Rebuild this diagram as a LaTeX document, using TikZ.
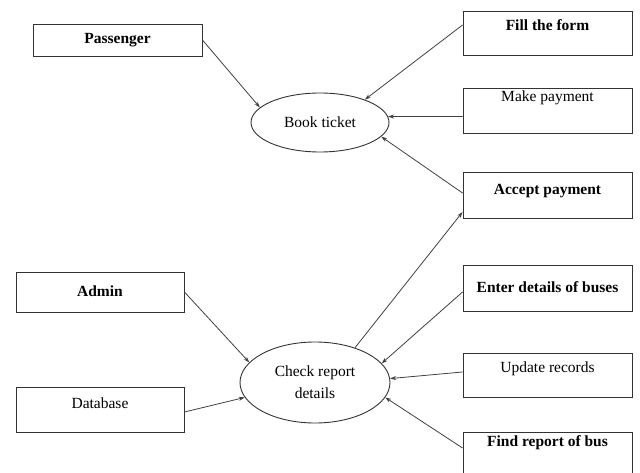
\documentclass[tikz,border=0pt]{standalone}
\usepackage{fontspec}
\setmainfont{Liberation Serif}
\usetikzlibrary{arrows.meta, shapes.geometric}

\begin{document}
\begin{tikzpicture}[
  x=1pt, y=-1pt,
  font=\fontsize{15.5}{22}\selectfont,
  box/.style={draw=black!80, line width=0.9pt, minimum width=169pt, minimum height=45pt,
    inner ysep=0pt, text height=11pt, text depth=3pt},
  usecase/.style={draw=black!80, line width=0.9pt, ellipse, align=center, inner sep=0pt},
  arrow/.style={-{Stealth[length=6pt, width=4pt]}, draw=black!75, line width=0.8pt}
]
\useasboundingbox (0,0) rectangle (640,473);

% actors
\node[box, minimum height=32pt, font=\fontsize{15.5}{22}\selectfont\bfseries] (pass) at (117.5,40) {Passenger};
\node[box, minimum width=168pt, minimum height=40pt, font=\fontsize{15.5}{22}\selectfont\bfseries] (admin) at (100,292) {Admin};
\node[box, minimum width=168pt, text depth=13pt] (db) at (100,409.5) {Database};

% use cases
\node[usecase, minimum width=138pt, minimum height=59pt] (book) at (320,122.5) {Book ticket};
\node[usecase, minimum width=150pt, minimum height=81pt] (check) at (315,382.5) {Check report\\details};

% right column
\node[box, minimum height=44pt, text depth=15pt, font=\fontsize{15.5}{22}\selectfont\bfseries] (fill) at (547.5,33) {Fill the form};
\node[box, text depth=29pt] (pay) at (547.5,110.5) {Make payment};
\node[box, minimum height=46pt, text depth=11pt, font=\fontsize{15.5}{22}\selectfont\bfseries] (accept) at (547.5,195) {Accept payment};
\node[box, minimum height=46pt, font=\fontsize{15.5}{22}\selectfont\bfseries] (enter) at (547.5,288) {Enter details of buses};
\node[box, minimum height=44pt, text depth=17pt] (update) at (547.5,375) {Update records};
\node[box, text depth=28pt, font=\fontsize{15.5}{22}\selectfont\bfseries] (find) at (547.5,454.5) {Find report of bus};

\draw[arrow] (pass.east) -- (book.166);
\draw[arrow] ([yshift=8pt]fill.west) -- (book.27);
\draw[arrow] ([yshift=-6pt]pay.west) -- (book.5);
\draw[arrow] ([yshift=2pt]accept.west) -- (book.-13);
\draw[arrow] (check.41) -- ([yshift=-17pt]accept.west);
\draw[arrow] (admin.east) -- (check.163);
\draw[arrow] ([yshift=-2.5pt]db.east) -- (check.192);
\draw[arrow] ([yshift=-4pt]enter.west) -- (check.16);
\draw[arrow] ([yshift=3pt]update.west) -- (check.3);
\draw[arrow] ([yshift=6.5pt]find.west) -- (check.-12);
\end{tikzpicture}
\end{document}
